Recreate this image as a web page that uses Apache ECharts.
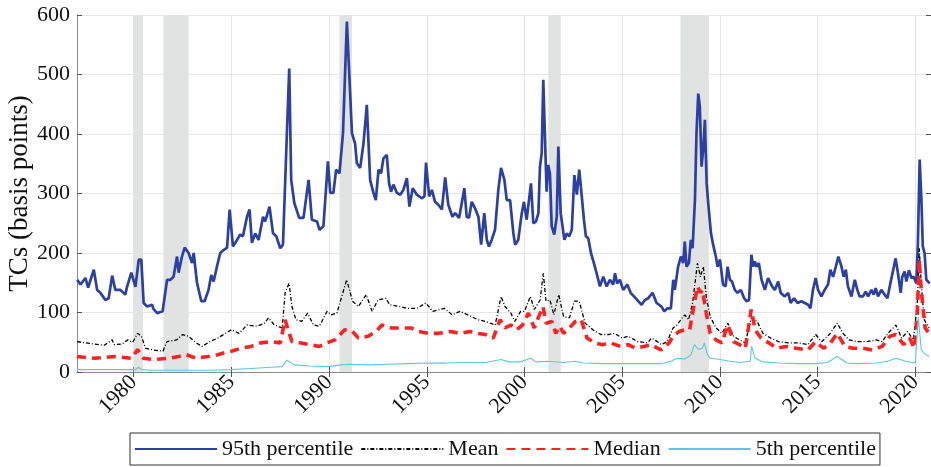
<!DOCTYPE html>
<html>
<head>
<meta charset="utf-8">
<script src="https://cdn.jsdelivr.net/npm/echarts@6/dist/echarts.min.js"></script>
<style>
html,body{margin:0;padding:0;background:#fff;}
#chart{width:931px;height:467px;}
</style>
</head>
<body>
<div id="chart"></div>
<script>
// ---- data: [year, basis points] ----
const p95 = [[1977.11,155],[1977.28,147],[1977.53,158],[1977.67,142],[1977.96,172],[1978.13,138],[1978.30,133],[1978.55,121],[1978.72,124],[1978.90,162],[1979.06,138],[1979.32,138],[1979.57,130],[1979.66,143],[1979.88,167],[1980.09,143],[1980.26,189],[1980.39,189],[1980.51,116],[1980.69,110],[1980.94,113],[1981.01,106],[1981.20,99],[1981.48,102],[1981.71,155],[1981.88,155],[1982.04,160],[1982.22,194],[1982.30,167],[1982.47,194],[1982.61,209],[1982.81,200],[1982.99,183],[1983.07,200],[1983.24,150],[1983.46,119],[1983.63,119],[1983.83,138],[1983.97,163],[1984.09,152],[1984.26,177],[1984.43,200],[1984.60,205],[1984.78,209],[1984.91,273],[1985.08,211],[1985.29,222],[1985.45,231],[1985.59,228],[1985.80,261],[1985.93,273],[1986.05,217],[1986.22,233],[1986.39,222],[1986.62,261],[1986.73,253],[1986.95,278],[1987.13,233],[1987.30,228],[1987.50,208],[1987.64,214],[1987.81,373],[1987.96,510],[1988.06,323],[1988.22,284],[1988.47,259],[1988.69,259],[1988.95,323],[1989.12,256],[1989.38,253],[1989.51,239],[1989.71,245],[1989.94,354],[1990.06,301],[1990.22,301],[1990.36,340],[1990.53,334],[1990.71,401],[1990.91,589],[1991.17,401],[1991.33,384],[1991.42,351],[1991.59,343],[1991.76,384],[1991.93,449],[1992.10,323],[1992.27,301],[1992.39,289],[1992.53,340],[1992.66,334],[1992.78,359],[1992.95,365],[1993.07,317],[1993.17,303],[1993.29,315],[1993.47,301],[1993.64,298],[1993.80,306],[1993.98,326],[1994.11,278],[1994.28,309],[1994.49,298],[1994.74,292],[1994.88,295],[1994.96,352],[1995.12,295],[1995.26,306],[1995.42,286],[1995.59,281],[1995.77,273],[1995.94,327],[1996.10,281],[1996.31,261],[1996.45,267],[1996.65,259],[1996.79,284],[1996.92,309],[1997.04,261],[1997.16,259],[1997.30,286],[1997.47,275],[1997.64,261],[1997.78,214],[1997.94,267],[1998.07,222],[1998.18,211],[1998.32,222],[1998.49,239],[1998.66,306],[1998.80,343],[1998.97,323],[1999.09,289],[1999.26,289],[1999.43,233],[1999.52,214],[1999.68,222],[1999.86,267],[1999.97,286],[2000.11,256],[2000.19,253],[2000.33,317],[2000.45,250],[2000.59,253],[2000.71,267],[2000.79,345],[2000.88,368],[2000.96,491],[2001.05,390],[2001.13,303],[2001.21,348],[2001.30,334],[2001.39,245],[2001.52,231],[2001.65,261],[2001.73,379],[2001.85,267],[2001.93,270],[2002.04,222],[2002.16,233],[2002.29,228],[2002.42,239],[2002.55,331],[2002.68,298],[2002.80,340],[2002.93,295],[2003.04,256],[2003.14,228],[2003.26,225],[2003.40,200],[2003.55,183],[2003.69,166],[2003.86,144],[2004.03,160],[2004.20,144],[2004.37,155],[2004.54,147],[2004.63,166],[2004.74,149],[2004.88,155],[2005.05,138],[2005.26,147],[2005.43,133],[2005.60,127],[2005.82,119],[2005.99,113],[2006.16,121],[2006.33,124],[2006.55,133],[2006.76,116],[2006.84,116],[2007.01,110],[2007.15,102],[2007.32,107],[2007.49,107],[2007.61,155],[2007.69,138],[2007.86,177],[2008.00,194],[2008.12,183],[2008.20,219],[2008.29,177],[2008.41,183],[2008.51,222],[2008.60,208],[2008.72,289],[2008.80,401],[2008.89,468],[2008.97,446],[2009.06,345],[2009.14,373],[2009.23,424],[2009.32,317],[2009.40,284],[2009.54,233],[2009.65,214],[2009.79,194],[2009.88,177],[2010.00,189],[2010.16,147],[2010.29,144],[2010.39,177],[2010.51,155],[2010.62,152],[2010.76,138],[2010.90,133],[2011.07,138],[2011.24,124],[2011.36,119],[2011.49,121],[2011.61,197],[2011.70,177],[2011.78,186],[2011.87,177],[2011.99,183],[2012.13,155],[2012.30,138],[2012.46,158],[2012.67,144],[2012.81,138],[2012.98,152],[2013.11,133],[2013.32,127],[2013.49,133],[2013.62,116],[2013.79,124],[2013.97,116],[2014.17,119],[2014.34,116],[2014.51,113],[2014.63,107],[2014.76,138],[2014.90,158],[2015.02,138],[2015.19,127],[2015.36,138],[2015.53,147],[2015.65,172],[2015.79,160],[2015.93,177],[2016.06,194],[2016.22,177],[2016.33,160],[2016.44,172],[2016.55,144],[2016.73,127],[2016.90,155],[2017.03,138],[2017.15,127],[2017.32,127],[2017.46,135],[2017.58,127],[2017.75,138],[2017.87,130],[2017.97,141],[2018.09,127],[2018.26,138],[2018.43,130],[2018.57,124],[2018.69,144],[2018.83,166],[2018.99,191],[2019.11,166],[2019.25,133],[2019.33,160],[2019.45,169],[2019.54,152],[2019.67,171],[2019.80,158],[2019.91,160],[2020.05,149],[2020.13,217],[2020.22,357],[2020.31,289],[2020.38,211],[2020.47,200],[2020.56,155],[2020.73,149]];

const meanTC = [[1977.1,51],[1977.5,49],[1978.0,47],[1978.5,45],[1978.9,54],[1979.0,46],[1979.4,47],[1979.7,54],[1979.95,50],[1980.2,65],[1980.4,60],[1980.6,40],[1981.0,37],[1981.5,35],[1981.7,51],[1982.2,54],[1982.5,63],[1982.8,60],[1983.2,49],[1983.5,43],[1983.9,51],[1984.3,57],[1984.6,63],[1985.0,71],[1985.4,65],[1985.8,79],[1986.3,77],[1986.7,82],[1986.9,91],[1987.2,79],[1987.6,74],[1987.75,133],[1987.95,149],[1988.1,110],[1988.3,88],[1988.6,85],[1988.9,99],[1989.2,79],[1989.5,77],[1989.9,102],[1990.1,96],[1990.4,99],[1990.9,155],[1991.2,119],[1991.5,110],[1991.9,130],[1992.2,102],[1992.5,121],[1992.9,124],[1993.1,113],[1993.6,110],[1994.0,107],[1994.5,107],[1994.95,116],[1995.3,102],[1995.9,107],[1996.3,96],[1996.7,102],[1997.1,96],[1997.6,88],[1998.0,85],[1998.5,79],[1998.8,127],[1999.0,110],[1999.3,99],[1999.5,85],[1999.8,102],[2000.0,102],[2000.3,127],[2000.5,105],[2000.8,121],[2000.96,166],[2001.1,119],[2001.3,121],[2001.5,96],[2001.75,130],[2002.0,93],[2002.3,91],[2002.55,119],[2002.8,119],[2003.1,82],[2003.5,71],[2003.9,63],[2004.3,63],[2004.6,65],[2005.0,57],[2005.3,60],[2005.8,51],[2006.3,49],[2006.5,57],[2006.8,51],[2007.0,46],[2007.3,51],[2007.6,74],[2007.8,79],[2008.0,88],[2008.2,96],[2008.4,88],[2008.6,116],[2008.85,183],[2009.0,160],[2009.15,177],[2009.3,127],[2009.5,93],[2009.8,74],[2010.1,65],[2010.4,82],[2010.7,60],[2011.0,54],[2011.3,49],[2011.6,91],[2011.9,85],[2012.2,65],[2012.6,57],[2013.0,51],[2013.5,49],[2014.0,49],[2014.5,46],[2014.9,63],[2015.2,51],[2015.6,63],[2016.0,82],[2016.3,65],[2016.6,54],[2017.0,51],[2017.5,51],[2018.0,54],[2018.3,51],[2018.6,65],[2019.0,79],[2019.3,57],[2019.6,68],[2019.9,54],[2020.1,116],[2020.2,208],[2020.3,149],[2020.45,88],[2020.7,74]];

const medianTC = [[1977.1,26],[1978.0,23],[1979.0,26],[1979.9,23],[1980.2,38],[1980.5,23],[1981.0,21],[1981.8,23],[1982.3,26],[1982.7,29],[1983.2,23],[1983.8,26],[1984.3,29],[1984.6,32],[1985.0,35],[1985.5,40],[1986.0,43],[1986.5,49],[1987.0,51],[1987.5,49],[1987.75,88],[1987.9,71],[1988.1,51],[1988.5,49],[1989.0,46],[1989.5,43],[1989.9,49],[1990.3,54],[1990.8,71],[1991.2,68],[1991.5,57],[1992.0,60],[1992.4,68],[1992.7,79],[1993.2,74],[1993.7,74],[1994.2,74],[1994.6,68],[1995.1,65],[1995.6,65],[1996.2,68],[1996.7,65],[1997.2,68],[1997.6,65],[1998.0,63],[1998.4,57],[1998.75,88],[1999.0,74],[1999.3,79],[1999.6,71],[1999.9,79],[2000.2,99],[2000.5,74],[2000.7,91],[2000.95,110],[2001.1,82],[2001.4,85],[2001.6,65],[2001.8,77],[2002.0,65],[2002.3,74],[2002.6,85],[2002.9,88],[2003.2,57],[2003.6,49],[2004.0,46],[2004.4,49],[2004.9,43],[2005.3,46],[2005.7,40],[2006.1,43],[2006.5,46],[2006.8,40],[2007.0,37],[2007.4,49],[2007.6,60],[2007.9,68],[2008.2,71],[2008.45,71],[2008.6,99],[2008.85,144],[2009.0,133],[2009.1,138],[2009.3,99],[2009.5,65],[2009.8,54],[2010.1,49],[2010.4,79],[2010.7,51],[2011.0,46],[2011.3,40],[2011.6,105],[2011.8,71],[2012.1,57],[2012.5,49],[2012.9,40],[2013.4,43],[2013.9,40],[2014.5,37],[2014.9,51],[2015.3,40],[2015.6,46],[2016.0,65],[2016.4,43],[2016.8,40],[2017.3,40],[2017.8,37],[2018.3,43],[2018.7,60],[2019.0,63],[2019.4,46],[2019.7,57],[2019.95,40],[2020.1,99],[2020.2,189],[2020.3,138],[2020.5,74],[2020.7,65]];

const p05 = [[1977.1,4],[1978,4],[1979,4],[1980.1,4],[1980.25,8],[1980.4,4],[1981,3],[1982,3],[1983,3],[1984,3],[1985,4],[1986,6],[1987,8],[1987.6,9],[1987.85,20],[1988.2,12],[1989,10],[1990,9],[1990.6,12],[1991,13],[1992,12],[1993,13],[1994,14],[1995,15],[1996,15],[1997,16],[1998,16],[1998.8,21],[1999.2,17],[1999.8,17],[2000.3,23],[2000.6,17],[2001.2,18],[2002,16],[2002.6,18],[2003,15],[2004,14],[2005,14],[2006,14],[2007,14],[2007.5,18],[2007.8,23],[2008.2,22],[2008.5,28],[2008.7,46],[2008.9,38],[2009.1,40],[2009.2,49],[2009.35,30],[2009.5,23],[2010,21],[2010.5,18],[2011,16],[2011.55,18],[2011.62,43],[2011.8,23],[2012.2,17],[2013,15],[2014,14],[2015,14],[2015.5,16],[2016.0,26],[2016.5,15],[2017,14],[2018,15],[2018.6,18],[2019.0,23],[2019.5,18],[2020.0,15],[2020.15,93],[2020.3,37],[2020.5,30],[2020.7,26]];

const recessions = [[1980.0,1980.48],[1981.52,1982.81],[1990.53,1991.17],[2001.22,2001.85],[2007.98,2009.43]];
const xTicks = [1980,1985,1990,1995,2000,2005,2010,2015,2020];
const seriesNames = ['95th percentile','Mean','Median','5th percentile'];

const FONT = 'Liberation Serif';
const X_MIN = 1977.1, X_MAX = 2020.8;
const gridColor = '#e6e6e6', boxColor = '#8a8a8a', tickColor = '#555';

const chart = echarts.init(document.getElementById('chart'), null, {renderer:'canvas'});
chart.setOption({
  animation:false,
  backgroundColor:'#fff',
  grid:{left:77,right:0,top:15,bottom:95,containLabel:false,outerBoundsMode:'none'},
  legend:{
    data:seriesNames,
    left:130, bottom:2,
    orient:'horizontal',
    itemWidth:82, itemHeight:12, itemGap:7,
    padding:[5,4,5,4],
    borderColor:'#333', borderWidth:1,
    itemStyle:{opacity:0},
    textStyle:{fontFamily:FONT,fontSize:22,color:'#111'}
  },
  xAxis:[{
    type:'value', min:X_MIN, max:X_MAX, position:'bottom',
    axisLine:{show:true,lineStyle:{color:boxColor,width:1}},
    axisTick:{show:true,inside:true,length:5,customValues:xTicks,lineStyle:{color:tickColor}},
    axisLabel:{show:true,customValues:xTicks,rotate:45,margin:7,fontFamily:FONT,fontSize:22,color:'#111',formatter:v=>String(v)},
    splitLine:{show:true,lineStyle:{color:gridColor,width:1}}
  },{
    type:'value', min:X_MIN, max:X_MAX, position:'top',
    axisLine:{show:true,lineStyle:{color:boxColor,width:1}},
    axisTick:{show:true,inside:true,length:5,customValues:xTicks,lineStyle:{color:tickColor}},
    axisLabel:{show:false}, splitLine:{show:false}
  }],
  yAxis:[{
    type:'value', min:0, max:600, interval:100, position:'left',
    name:'TCs (basis points)', nameLocation:'middle', nameRotate:90, nameGap:44,
    nameMoveOverlap:false,
    nameTextStyle:{fontFamily:FONT,fontSize:27,color:'#111'},
    axisLine:{show:true,lineStyle:{color:boxColor,width:1}},
    axisTick:{show:true,inside:true,length:5,lineStyle:{color:tickColor}},
    axisLabel:{fontFamily:FONT,fontSize:22,color:'#111',margin:7},
    splitLine:{show:true,lineStyle:{color:gridColor,width:1}}
  },{
    type:'value', min:0, max:600, interval:100, position:'right',
    axisLine:{show:true,lineStyle:{color:boxColor,width:1}},
    axisTick:{show:true,inside:true,length:5,lineStyle:{color:tickColor}},
    axisLabel:{show:false}, splitLine:{show:false}
  }],
  series:[
    {type:'line', name:'_rec', data:[], silent:true, z:0,
     markArea:{silent:true, itemStyle:{color:'#e1e2e2'},
       data:recessions.map(r=>[{xAxis:r[0]},{xAxis:r[1]}])}},
    {type:'line', name:seriesNames[0], data:p95, symbol:'none', z:2,
     lineStyle:{color:'#2c40a4',width:2.7}, itemStyle:{color:'#2c40a4'}},
    {type:'line', name:seriesNames[1], data:meanTC, symbol:'none', z:3,
     lineStyle:{color:'#000',width:1.3,type:[4,2,1,2]}, itemStyle:{color:'#000'}},
    {type:'line', name:seriesNames[2], data:medianTC, symbol:'none', z:4,
     lineStyle:{color:'#ff2020',width:3.6,type:[9,6]}, itemStyle:{color:'#ff2020'}},
    {type:'line', name:seriesNames[3], data:p05, symbol:'none', z:5,
     lineStyle:{color:'#5cc8e0',width:1.1}, itemStyle:{color:'#5cc8e0'}}
  ]
});
</script>
</body>
</html>
